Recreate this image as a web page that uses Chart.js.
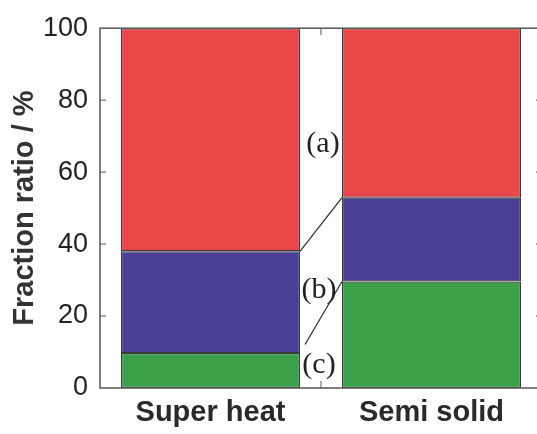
<!DOCTYPE html>
<html>
<head>
<meta charset="utf-8">
<script src="https://cdn.jsdelivr.net/npm/chart.js@4/dist/chart.umd.min.js"></script>
<style>
  html, body { margin: 0; padding: 0; background: #fff; overflow: hidden; }
  #wrap { width: 537px; height: 434px; overflow: hidden; }
</style>
</head>
<body>
<div id="wrap"><canvas id="fracCanvas" width="548" height="434"></canvas></div>
<script>
"use strict"

// categories on the x axis
const categories = ['Super heat', 'Semi solid'];

// fraction of each phase, % (stacked from the bottom)
const phaseC = [9.7, 29.6];   // green, (c)
const phaseB = [28.3, 23.3];  // blue, (b)
const phaseA = [62.0, 47.1];  // red, (a)

const yTicks = [0, 20, 40, 60, 80, 100];

const edgeColor = '#3a3a3a';


//Draws frame, inner ticks, connecting lines and (a)(b)(c) labels
const framePlugin = {
    id: 'framePlugin',
    afterDatasetsDraw(chart) {
        const ctx = chart.ctx;
        const area = chart.chartArea;
        const yScale = chart.scales.y;
        const xScale = chart.scales.x;

        ctx.save();

        // frame
        ctx.strokeStyle = '#555';
        ctx.lineWidth = 1.5;
        ctx.strokeRect(area.left, area.top, area.right - area.left, area.bottom - area.top);

        // inward y ticks on both sides
        ctx.lineWidth = 1;
        yTicks.forEach(function (v) {
            if (v === 0 || v === 100) return;
            const py = yScale.getPixelForValue(v);
            ctx.beginPath();
            ctx.moveTo(area.left, py);
            ctx.lineTo(area.left + 6, py);
            ctx.moveTo(area.right, py);
            ctx.lineTo(area.right - 6, py);
            ctx.stroke();
        });

        // x tick between the two categories
        const midX = (xScale.getPixelForValue(0) + xScale.getPixelForValue(1)) / 2;
        ctx.beginPath();
        ctx.moveTo(midX, area.top);
        ctx.lineTo(midX, area.top + 7);
        ctx.moveTo(midX, area.bottom);
        ctx.lineTo(midX, area.bottom - 7);
        ctx.stroke();

        // connecting lines between bar boundaries
        const metaC = chart.getDatasetMeta(0);
        const metaB = chart.getDatasetMeta(1);
        const b1 = metaB.data[0], b2 = metaB.data[1];
        const c1 = metaC.data[0], c2 = metaC.data[1];
        const r1 = b1.x + b1.width / 2;
        const l2 = b2.x - b2.width / 2;

        ctx.strokeStyle = '#333';
        ctx.lineWidth = 1.3;
        ctx.beginPath();
        ctx.moveTo(r1, b1.y);
        ctx.lineTo(l2, b2.y);
        ctx.stroke();

        const t0 = 0.12;
        ctx.beginPath();
        ctx.moveTo(r1 + (l2 - r1) * t0, c1.y + (c2.y - c1.y) * t0);
        ctx.lineTo(l2, c2.y);
        ctx.stroke();

        // labels
        ctx.fillStyle = '#222';
        ctx.font = '30px "Liberation Serif", "DejaVu Serif", serif';
        ctx.textAlign = 'center';
        ctx.textBaseline = 'middle';
        const gapX = (r1 + l2) / 2;
        ctx.fillText('(a)', gapX + 2, yScale.getPixelForValue(67.9));
        ctx.fillText('(b)', gapX - 2, yScale.getPixelForValue(27.1));
        ctx.fillText('(c)', gapX - 2, yScale.getPixelForValue(6.4));

        ctx.restore();
    }
};


function DrawFractionChart() {

    const barData = {
        labels: categories,
        datasets: [
            { label: '(c)', data: phaseC, backgroundColor: '#3c9f49' },
            { label: '(b)', data: phaseB, backgroundColor: '#4a4096' },
            { label: '(a)', data: phaseA, backgroundColor: '#e84649' }
        ]
    };

    barData.datasets.forEach(function (ds) {
        ds.borderColor = edgeColor;
        ds.borderWidth = 1.2;
        ds.borderSkipped = false;
        ds.categoryPercentage = 1.0;
        ds.barPercentage = 0.81;
    });

    const config = {
        type: 'bar',
        data: barData,
        options: {
            responsive: false,
            animation: false,
            layout: {
                padding: { top: 23, right: 6, left: 0, bottom: 0 }
            },
            plugins: {
                legend: { display: false },
                tooltip: { enabled: false }
            },
            scales: {
                x: {
                    stacked: true,
                    offset: true,
                    grid: { display: false, drawTicks: false },
                    border: { display: false },
                    ticks: {
                        color: '#2a2a2a',
                        padding: 8,
                        font: { family: '"Liberation Sans", Arial, sans-serif', size: 29, weight: 'bold' }
                    },
                    afterFit: function (scale) { scale.height = 46; }
                },
                y: {
                    stacked: true,
                    min: 0,
                    max: 100,
                    grid: { display: false, drawTicks: false },
                    border: { display: false },
                    ticks: {
                        stepSize: 20,
                        color: '#222',
                        padding: 12,
                        font: { family: '"Liberation Sans", Arial, sans-serif', size: 27 }
                    },
                    title: {
                        display: true,
                        text: 'Fraction ratio / %',
                        color: '#333',
                        padding: { top: 8, bottom: 0 },
                        font: { family: '"Liberation Sans", Arial, sans-serif', size: 29, weight: 'bold' }
                    },
                    afterFit: function (scale) { scale.width = 100; }
                }
            }
        },
        plugins: [framePlugin]
    };

    window.fracChart = new Chart(document.getElementById('fracCanvas'), config);
};

DrawFractionChart();
</script>
</body>
</html>
